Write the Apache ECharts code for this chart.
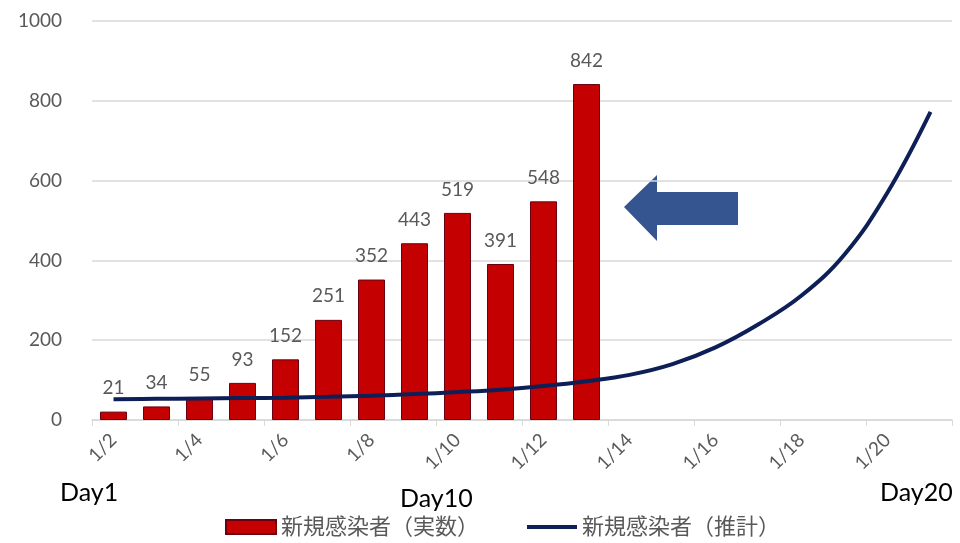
<!DOCTYPE html>
<html>
<head>
<meta charset="utf-8">
<script src="https://cdn.jsdelivr.net/npm/echarts@6/dist/echarts.min.js"></script>
<style>
html,body{margin:0;padding:0;background:#fff;}
#c{width:960px;height:543px;}
</style>
</head>
<body>
<div id="c"></div>
<script>
const categories = ['1/2','1/3','1/4','1/5','1/6','1/7','1/8','1/9','1/10','1/11','1/12','1/13','1/14','1/15','1/16','1/17','1/18','1/19','1/20','1/21'];
const actualCases = [21,34,55,93,152,251,352,443,519,391,548,842];
const estimatedCases = [52,53,54,55,56,58,61,65,70,76,85,97,113,140,182,240,312,415,570,772];
const yTicks = [0,200,400,600,800,1000];
const seriesNames = ['新規感染者（実数）','新規感染者（推計）'];
const dayMarks = ['Day1','Day10','Day20'];

const FONT = 'Lato, "Noto Sans CJK JP", sans-serif';
const chart = echarts.init(document.getElementById('c'));
chart.setOption({
  animation: false,
  backgroundColor: '#fff',
  grid: {left: 92, right: 8, top: 21, bottom: 123, containLabel: false},
  legend: {
    bottom: 0, left: 220,
    itemWidth: 50, itemHeight: 14, itemGap: 48,
    textStyle: {color: '#595959', fontSize: 22, fontFamily: FONT},
    data: [
      {name: seriesNames[0], icon: 'rect'},
      {name: seriesNames[1], icon: 'path://M0,0H50V4H0Z'}
    ]
  },
  xAxis: {
    type: 'category',
    data: categories,
    boundaryGap: true,
    axisLine: {lineStyle: {color: '#d9d9d9', width: 1.5}},
    axisTick: {show: true, interval: 1, length: 6, lineStyle: {color: '#d9d9d9'}},
    axisLabel: {interval: 1, rotate: 45, color: '#595959', fontSize: 19, fontFamily: FONT, margin: 17}
  },
  yAxis: {
    type: 'value',
    min: yTicks[0], max: yTicks[yTicks.length-1], interval: 200,
    axisLine: {show: false},
    axisTick: {show: false},
    axisLabel: {color: '#595959', fontSize: 19, fontFamily: FONT, margin: 30, formatter: v => String(v)},
    splitLine: {lineStyle: {color: '#d9d9d9', width: 1.5}}
  },
  series: [
    {
      name: seriesNames[0],
      type: 'bar',
      data: actualCases,
      barWidth: 27,
      itemStyle: {color: '#C40000', borderColor: '#6a0010', borderWidth: 1},
      label: {show: true, position: 'top', distance: 14, color: '#595959', fontSize: 19, fontFamily: FONT}
    },
    {
      name: seriesNames[1],
      type: 'line',
      data: estimatedCases,
      smooth: 0.4,
      symbol: 'none',
      lineStyle: {color: '#0E1F57', width: 4},
      itemStyle: {color: '#0E1F57'}
    }
  ],
  graphic: [
    {type: 'polygon', shape: {points: [[624,207],[657,175],[657,192],[738,192],[738,225],[657,225],[657,241]]},
     style: {fill: '#34558F'}},
    {type: 'text', left: 60, top: 480, style: {text: dayMarks[0], fill: '#000', fontSize: 25, fontFamily: FONT}},
    {type: 'text', left: 400, top: 486, style: {text: dayMarks[1], fill: '#000', fontSize: 25, fontFamily: FONT}},
    {type: 'text', left: 880, top: 480, style: {text: dayMarks[2], fill: '#000', fontSize: 25, fontFamily: FONT}}
  ]
});
</script>
</body>
</html>
